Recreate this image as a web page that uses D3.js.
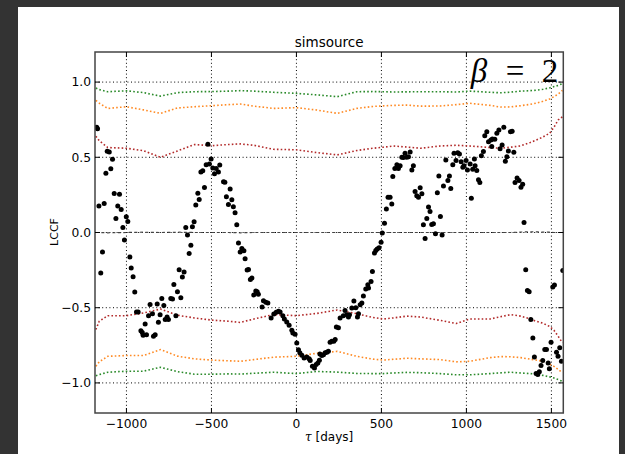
<!DOCTYPE html>
<html><head><meta charset="utf-8">
<script src="https://cdn.jsdelivr.net/npm/d3@7"></script>
<style>
html,body{margin:0;padding:0;background:#333;}
svg{display:block;}
</style></head>
<body>
<svg id="chart" width="625" height="454"></svg>
<script>
// ---- data ----
const pointLags = [-1175,-1170,-1162,-1151,-1141,-1131,-1121,-1113,-1101,-1092,-1082,-1072,-1062,-1051,-1041,-1031,-1021,-1012,-1001,-992,-980,-972,-961,-951,-941,-931,-915,-907,-902,-890,-882,-870,-861,-847,-841,-831,-819,-812,-802,-792,-780,-772,-761,-753,-739,-729,-721,-709,-700,-690,-680,-671,-661,-651,-641,-631,-621,-612,-602,-592,-580,-572,-562,-551,-541,-531,-521,-512,-502,-492,-482,-472,-459,-451,-429,-421,-412,-400,-390,-380,-371,-361,-351,-341,-331,-321,-309,-302,-290,-282,-271,-262,-251,-239,-231,-224,-202,-194,-180,-168,-149,-133,-119,-106,-96,-80,-71,-57,-43,-27,-21,-8,2,12,20,32,45,61,75,81,94,106,116,126,135,138,149,159,169,179,188,198,208,220,228,235,247,257,276,286,296,306,312,326,338,349,359,365,375,385,394,408,420,424,439,447,459,467,475,486,498,505,518,529,539,551,561,567,579,591,600,610,620,629,639,649,659,669,679,688,698,708,718,728,738,747,757,767,777,786,796,806,818,829,838,847,857,865,879,891,900,908,920,927,939,949,959,969,979,986,998,1006,1022,1029,1037,1047,1051,1061,1071,1079,1088,1100,1108,1120,1130,1144,1149,1153,1167,1179,1191,1198,1210,1220,1229,1238,1247,1259,1269,1279,1286,1298,1310,1321,1331,1339,1349,1359,1369,1379,1391,1400,1410,1420,1429,1439,1449,1461,1471,1481,1488,1498,1508,1518,1530,1539,1549,1559,1567];
const pointLCCF = [0.70,0.69,0.177,-0.27,-0.13,0.192,0.394,0.54,0.535,0.423,0.487,0.259,0.093,0.177,0.255,0.153,0.033,-0.05,0.104,0.073,-0.163,-0.236,-0.294,-0.396,-0.528,-0.528,-0.654,-0.664,-0.683,-0.608,-0.679,-0.553,-0.478,-0.54,-0.69,-0.679,-0.475,-0.597,-0.546,-0.438,-0.486,-0.579,-0.562,-0.579,-0.438,-0.442,-0.345,-0.553,-0.394,-0.248,-0.433,-0.296,-0.263,0.033,-0.017,-0.139,-0.084,0.038,0.071,0.182,0.261,0.219,0.403,0.411,0.299,0.451,0.587,0.456,0.489,0.429,0.39,0.425,0.403,0.449,0.338,0.334,0.237,0.186,0.29,0.217,0.171,0.131,0.051,-0.07,-0.13,-0.106,-0.121,-0.175,-0.25,-0.246,-0.312,-0.303,-0.415,-0.389,-0.394,-0.411,-0.495,-0.453,-0.464,-0.469,-0.568,-0.541,-0.531,-0.524,-0.528,-0.553,-0.575,-0.595,-0.617,-0.65,-0.668,-0.677,-0.734,-0.78,-0.8,-0.816,-0.834,-0.827,-0.84,-0.851,-0.889,-0.9,-0.878,-0.867,-0.849,-0.807,-0.818,-0.812,-0.8,-0.796,-0.79,-0.73,-0.723,-0.723,-0.712,-0.628,-0.634,-0.568,-0.553,-0.518,-0.546,-0.561,-0.546,-0.502,-0.455,-0.5,-0.561,-0.54,-0.48,-0.468,-0.422,-0.376,-0.347,-0.369,-0.325,-0.259,-0.137,-0.119,-0.11,-0.102,-0.064,-0.004,0.062,0.157,0.235,0.235,0.19,0.372,0.425,0.451,0.425,0.443,0.5,0.498,0.527,0.5,0.504,0.535,0.416,0.443,0.272,0.244,0.235,0.297,0.257,0.051,-0.04,0.093,0.169,0.139,0.053,0.058,-0.009,0.265,0.376,0.106,-0.017,0.309,0.482,0.345,0.376,0.292,0.451,0.527,0.478,0.531,0.522,0.471,0.434,0.443,0.478,0.416,0.456,0.228,0.421,0.489,0.443,0.412,0.35,0.332,0.511,0.538,0.644,0.67,0.604,0.615,0.571,0.622,0.62,0.66,0.681,0.557,0.582,0.699,0.474,0.504,0.542,0.67,0.673,0.533,0.332,0.363,0.345,0.301,0.321,0.066,-0.248,-0.385,-0.394,-0.579,-0.701,-0.827,-0.938,-0.944,-0.926,-0.885,-0.851,-0.778,-0.778,-0.867,-0.906,-0.73,-0.362,-0.349,-0.796,-0.823,-0.767,-0.856,-0.252];

const sigLags = [-1180,-1160,-1110,-1000,-900,-800,-700,-600,-500,-400,-330,-250,-135,0,120,240,355,450,510,570,650,730,845,940,1020,1140,1200,1260,1320,1375,1410,1450,1490,1515,1540,1565];
const green_hi = [0.96,0.95,0.936,0.942,0.93,0.907,0.93,0.936,0.937,0.94,0.943,0.94,0.932,0.925,0.915,0.903,0.936,0.937,0.936,0.934,0.935,0.936,0.936,0.934,0.94,0.932,0.929,0.933,0.94,0.943,0.946,0.952,0.962,0.97,0.978,0.99];
const orange_hi = [0.878,0.86,0.825,0.836,0.815,0.792,0.828,0.836,0.843,0.85,0.854,0.84,0.825,0.83,0.814,0.792,0.825,0.838,0.842,0.845,0.847,0.84,0.841,0.85,0.859,0.845,0.834,0.835,0.843,0.852,0.86,0.872,0.888,0.903,0.92,0.945];
const red_hi = [0.64,0.61,0.565,0.56,0.544,0.5,0.542,0.585,0.577,0.585,0.589,0.58,0.553,0.55,0.531,0.516,0.545,0.56,0.567,0.575,0.568,0.56,0.575,0.58,0.575,0.565,0.56,0.567,0.576,0.598,0.614,0.635,0.66,0.7,0.748,0.77];
const red_lo = [-0.645,-0.59,-0.553,-0.553,-0.535,-0.509,-0.55,-0.568,-0.582,-0.59,-0.598,-0.575,-0.546,-0.553,-0.538,-0.515,-0.54,-0.565,-0.575,-0.568,-0.556,-0.562,-0.584,-0.605,-0.575,-0.575,-0.56,-0.546,-0.556,-0.575,-0.59,-0.603,-0.625,-0.65,-0.69,-0.734];
const orange_lo = [-0.89,-0.86,-0.823,-0.818,-0.818,-0.778,-0.822,-0.84,-0.848,-0.853,-0.856,-0.845,-0.829,-0.823,-0.803,-0.79,-0.823,-0.842,-0.848,-0.843,-0.836,-0.84,-0.845,-0.86,-0.856,-0.832,-0.825,-0.826,-0.832,-0.842,-0.848,-0.856,-0.875,-0.89,-0.91,-0.933];
const green_lo = [-0.952,-0.945,-0.929,-0.922,-0.922,-0.896,-0.925,-0.942,-0.942,-0.94,-0.941,-0.936,-0.929,-0.938,-0.924,-0.928,-0.937,-0.938,-0.938,-0.934,-0.93,-0.932,-0.938,-0.946,-0.946,-0.938,-0.933,-0.929,-0.934,-0.938,-0.942,-0.95,-0.96,-0.968,-0.978,-0.989];
const mean_sim = [0.0,0.0,-0.002,0.0,0.002,0.0,0.002,0.0,0.0,0.0,-0.002,0.0,0.0,0.0,0.0,0.0,0.0,0.0,0.0,0.0,0.0,0.0,0.0,0.0,0.0,0.0,0.0,0.0,0.003,0.005,0.004,0.003,0.002,0.0,0.0,0.0];

const xTicks = [-1000,-500,0,500,1000,1500];
const yTicks = [-1.0,-0.5,0.0,0.5,1.0];
const titleText = "simsource";

// ---- layout ----
const svg = d3.select("#chart");
const W = 625, H = 454;
const m = {left:95, right:563.3, top:52, bottom:413};

svg.append("rect").attr("width",W).attr("height",H).attr("fill","#333");
svg.append("rect").attr("x",18).attr("y",7).attr("width",601).attr("height",H-7).attr("fill","#fff");

const x = d3.scaleLinear().domain([-1185,1570]).range([m.left,m.right]);
const y = d3.scaleLinear().domain([-1.2,1.2]).range([m.bottom,m.top]);

const g = svg.append("g");
const clipId = "plotclip";
svg.append("defs").append("clipPath").attr("id",clipId)
  .append("rect").attr("x",m.left).attr("y",m.top).attr("width",m.right-m.left).attr("height",m.bottom-m.top);

// grid
g.selectAll(".gx").data(xTicks).enter().append("line")
  .attr("x1",d=>x(d)).attr("x2",d=>x(d)).attr("y1",m.top).attr("y2",m.bottom)
  .attr("stroke","#000").attr("stroke-width",1).attr("stroke-dasharray","1,2.6");
g.selectAll(".gy").data(yTicks).enter().append("line")
  .attr("y1",d=>y(d)).attr("y2",d=>y(d)).attr("x1",m.left).attr("x2",m.right)
  .attr("stroke","#000").attr("stroke-width",1).attr("stroke-dasharray","1,2.6");

const plot = g.append("g").attr("clip-path",`url(#${clipId})`);
const line = d3.line().x((d,i)=>x(sigLags[i])).y(d=>y(d));

function sig(vals,color){
  plot.append("path").datum(vals).attr("d",line).attr("fill","none")
    .attr("stroke",color).attr("stroke-width",1.6).attr("stroke-dasharray","1.6,2.2");
}
plot.append("path").datum(mean_sim).attr("d",line).attr("fill","none")
  .attr("stroke","#444").attr("stroke-width",1.2).attr("stroke-dasharray","3,2.5");
sig(green_hi,"#2a8a2a");
sig(orange_hi,"#ff8a24");
sig(red_hi,"#b22a2a");
sig(red_lo,"#b22a2a");
sig(orange_lo,"#ff8a24");
sig(green_lo,"#2a8a2a");

// points
plot.selectAll("circle").data(pointLags).enter().append("circle")
  .attr("cx",d=>x(d)).attr("cy",(d,i)=>y(pointLCCF[i])).attr("r",2.5).attr("fill","#000");

// frame
g.append("rect").attr("x",m.left).attr("y",m.top).attr("width",m.right-m.left).attr("height",m.bottom-m.top)
  .attr("fill","none").attr("stroke","#444").attr("stroke-width",1.5);

// ticks (inward, all sides)
const tl = 5;
xTicks.forEach(t=>{
  g.append("line").attr("x1",x(t)).attr("x2",x(t)).attr("y1",m.bottom).attr("y2",m.bottom-tl).attr("stroke","#000");
  g.append("line").attr("x1",x(t)).attr("x2",x(t)).attr("y1",m.top).attr("y2",m.top+tl).attr("stroke","#000");
});
yTicks.forEach(t=>{
  g.append("line").attr("y1",y(t)).attr("y2",y(t)).attr("x1",m.left).attr("x2",m.left+tl).attr("stroke","#000");
  g.append("line").attr("y1",y(t)).attr("y2",y(t)).attr("x1",m.right).attr("x2",m.right-tl).attr("stroke","#000");
});

// tick labels
const font = "DejaVu Sans, sans-serif";
const fx = d3.format("d"), fy = d3.format(".1f");
g.selectAll(".xl").data(xTicks).enter().append("text")
  .attr("x",d=>x(d)).attr("y",428).attr("text-anchor","middle")
  .attr("font-family",font).attr("font-size",12.3).attr("fill","#000")
  .text(d=>fx(d));
g.selectAll(".yl").data(yTicks).enter().append("text")
  .attr("x",91).attr("y",d=>y(d)+4.3).attr("text-anchor","end")
  .attr("font-family",font).attr("font-size",12.3).attr("fill","#000")
  .text(d=>fy(d));

// title
svg.append("text").attr("x",(m.left+m.right)/2).attr("y",47).attr("text-anchor","middle")
  .attr("font-family",font).attr("font-size",13.5).attr("fill","#000").text(titleText);

// axis labels
const xl = svg.append("text").attr("x",(m.left+m.right)/2).attr("y",441).attr("text-anchor","middle")
  .attr("font-family",font).attr("font-size",12).attr("fill","#000");
xl.append("tspan").attr("font-family","DejaVu Serif, serif").attr("font-style","italic").text("τ");
xl.append("tspan").text(" [days]");

svg.append("text").attr("transform","translate(58,232) rotate(-90)").attr("text-anchor","middle")
  .attr("font-family",font).attr("font-size",11).attr("fill","#000").text("LCCF");

// beta label (math style, glyphs placed separately)
const serif = "Liberation Serif, DejaVu Serif, serif";
svg.append("text").attr("x",479).attr("y",82).attr("text-anchor","middle")
  .attr("font-family",serif).attr("font-style","italic").attr("font-size",33).attr("fill","#000").text("β");
svg.append("text").attr("x",515).attr("y",82).attr("text-anchor","middle")
  .attr("font-family",serif).attr("font-size",33).attr("fill","#000").text("=");
svg.append("text").attr("x",550).attr("y",82).attr("text-anchor","middle")
  .attr("font-family",serif).attr("font-size",33).attr("fill","#000").text("2");
</script>
</body></html>
